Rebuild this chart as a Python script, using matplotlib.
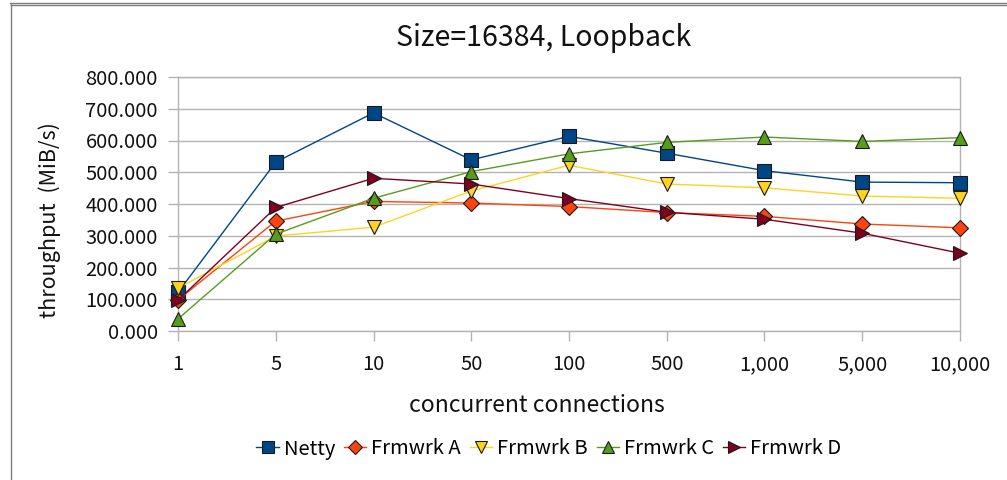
import matplotlib
matplotlib.use("Agg")
import matplotlib.pyplot as plt
from matplotlib.lines import Line2D

plt.rcParams['font.family'] = ['Noto Sans CJK KR', 'DejaVu Sans']

# ---- data ----
connections = ["1", "5", "10", "50", "100", "500", "1,000", "5,000", "10,000"]
netty    = [122, 532, 687, 539, 613, 560, 505, 469, 467]
frmwrk_a = [98, 346, 408, 403, 392, 373, 361, 337, 325]
frmwrk_b = [135, 299, 327, 441, 522, 463, 451, 425, 418]
frmwrk_c = [38, 305, 418, 502, 558, 594, 611, 597, 609]
frmwrk_d = [97, 389, 481, 463, 417, 374, 352, 308, 245]
y_ticks = [0, 100, 200, 300, 400, 500, 600, 700, 800]

series = [
    ("Netty", netty, "#004586", "s"),
    ("Frmwrk A", frmwrk_a, "#ff420e", "D"),
    ("Frmwrk B", frmwrk_b, "#ffd320", "v"),
    ("Frmwrk C", frmwrk_c, "#579d1c", "^"),
    ("Frmwrk D", frmwrk_d, "#7e0021", ">"),
]

W, H = 1007, 480
fig = plt.figure(figsize=(W / 100, H / 100), dpi=100)
ax = fig.add_axes([178 / W, 1 - 331 / H, (960 - 178) / W, (331 - 77) / H])

x = list(range(len(connections)))
for name, vals, col, mk in series:
    ms = 8.5 if mk == "D" else 9.5
    ax.plot(x, vals, color=col, lw=1.0, marker=mk, markersize=ms,
            markerfacecolor=col, markeredgecolor="#1a1a1a", markeredgewidth=0.8,
            label=name, zorder=3, clip_on=False)

grid_col = "#b3b3b3"
ax.set_xlim(0, len(connections) - 1)
ax.set_ylim(0, 800)
ax.set_yticks(y_ticks)
ax.set_yticklabels([f"{v:.3f}" for v in y_ticks])
ax.set_xticks(x)
ax.set_xticklabels(connections)
ax.grid(True, axis="y", color=grid_col, lw=1.0, zorder=0)
for s in ax.spines.values():
    s.set_color(grid_col)
    s.set_linewidth(1.0)
ax.tick_params(axis="both", colors=grid_col, labelcolor="#111111",
               labelsize=14.5, length=7.5, width=1.0, direction="out")
ax.tick_params(axis="x", pad=9)
ax.tick_params(axis="y", pad=7)

txt = "#111111"
fig.text(544 / W, 1 - 38 / H, "Size=16384, Loopback", fontsize=20.5,
         ha="center", va="center", color=txt)
fig.text(537 / W, 1 - 405 / H, "concurrent connections", fontsize=16.5,
         ha="center", va="center", color=txt)
fig.text(50 / W, 1 - 220 / H, "throughput  (MiB/s)", fontsize=15.5,
         ha="center", va="center", rotation=90, color=txt)

handles = [Line2D([], [], color=col, lw=1.0, marker=mk,
                  markersize=(7.5 if mk == "D" else 8.5), markerfacecolor=col,
                  markeredgecolor="#1a1a1a", markeredgewidth=0.8)
           for _, _, col, mk in series]
fig.legend(handles, [s[0] for s in series], loc="center",
           bbox_to_anchor=(549 / W, 1 - 449 / H), ncol=5, frameon=False,
           fontsize=14.5, handlelength=1.1, handletextpad=0.25, columnspacing=0.45)

# window border lines from the screenshot
border = "#7f7f7f"
fig.add_artist(Line2D([10 / W, 1], [1 - 2.5 / H] * 2, color=border, lw=1))
fig.add_artist(Line2D([11 / W, 1], [1 - 4.5 / H] * 2, color=border, lw=1))
fig.add_artist(Line2D([10.5 / W] * 2, [0, 1 - 4 / H], color=border, lw=1))

fig.savefig("out.png", dpi=100)
